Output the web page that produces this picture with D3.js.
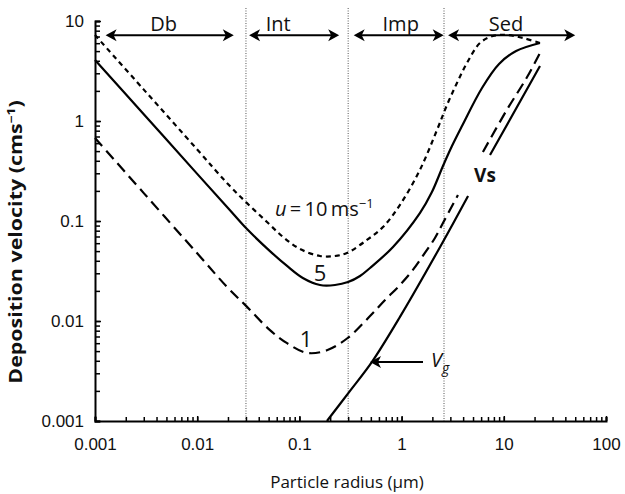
<!DOCTYPE html>
<html><head><meta charset="utf-8">
<script src="https://cdn.jsdelivr.net/npm/d3@7"></script>
<style>
body{margin:0;background:#fff;}
svg{display:block;font-family:"Open Sans",sans-serif;}
</style></head>
<body><svg id="c" width="625" height="494"></svg>
<script>
// ---- data ----
const xDomain = [0.001, 100];
const yDomain = [0.001, 10];
const xTickLabels = ["0.001", "0.01", "0.1", "1", "10", "100"];
const yTickLabels = ["0.001", "0.01", "0.1", "1", "10"];
const xMajor = [0.001, 0.01, 0.1, 1, 10, 100];
const yMajor = [0.001, 0.01, 0.1, 1, 10];

// regime boundaries (dotted verticals)
const boundaries = [0.03, 0.3, 2.6];
// regime labels and arrows
const regimeNames = ["Db", "Int", "Imp", "Sed"];
const regimeLabelX = [0.0047, 0.062, 0.98, 10.5];
const arrowFrom = [0.00127, 0.0322, 0.34, 2.85];
const arrowTo = [0.0228, 0.245, 2.58, 50];
const arrowLevel = 7.2;

// u = 10 m/s (short dashes)
const r10 = [0.001, 0.003, 0.01, 0.02, 0.0307, 0.0482, 0.0692, 0.1014, 0.159, 0.223, 0.292, 0.458, 0.657, 0.964, 1.51, 2.22, 2.78, 3.48, 4.36, 5.85, 7.84, 10.7, 15.4, 22.6];
const v10 = [7.24, 2.06, 0.519, 0.234, 0.151, 0.0977, 0.0692, 0.0525, 0.0447, 0.0447, 0.0479, 0.0646, 0.087, 0.145, 0.324, 0.813, 1.445, 2.4, 3.8, 6.03, 7.08, 7.24, 6.76, 6.03];

// u = 5 m/s (solid)
const r5 = [0.001, 0.003, 0.01, 0.02, 0.0307, 0.0515, 0.0757, 0.108, 0.159, 0.223, 0.299, 0.392, 0.491, 0.824, 1.51, 1.98, 2.54, 3.11, 3.9, 6.12, 8.98, 13.2, 22.6];
const v5 = [4.07, 1.17, 0.296, 0.135, 0.083, 0.05, 0.0355, 0.0269, 0.0229, 0.0229, 0.0245, 0.0282, 0.0339, 0.055, 0.12, 0.195, 0.355, 0.562, 0.891, 2.14, 3.72, 5.01, 6.03];

// u = 1 m/s (long dashes), null = gap around the Vs label
const r1 = [0.001, 0.003, 0.01, 0.02, 0.0294, 0.0515, 0.0757, 0.1186, 0.186, 0.299, 0.491, 0.689, 0.964, 1.29, 1.69, 2.12, 2.54, 3.56, null, 6.25, 10.7, 16.9, 22.6];
const v1 = [0.676, 0.19, 0.0475, 0.0214, 0.0145, 0.0081, 0.006, 0.0048, 0.0051, 0.0068, 0.0112, 0.0162, 0.0229, 0.0324, 0.0479, 0.0676, 0.0955, 0.182, null, 0.49, 1.29, 2.75, 4.79];

// gravitational settling Vg (solid), null = gap
const rg = [0.186, 0.313, 0.513, 0.964, 2.38, 4.47, null, 7.33, 22.6];
const vg = [0.001, 0.002, 0.0039, 0.011, 0.055, 0.178, null, 0.457, 3.55];

// ---- drawing ----
const svg = d3.select("#c");
const x = d3.scaleLog().domain(xDomain).range([95, 606]);
const y = d3.scaleLog().domain(yDomain).range([421, 21]);

function minor(major) {
  const out = [];
  major.forEach((m, i) => { if (i < major.length - 1) for (let k = 1; k <= 9; k++) out.push(m * k); });
  out.push(major[major.length - 1]);
  return out;
}

// dotted boundaries
svg.selectAll("line.bnd").data(boundaries).join("line")
  .attr("x1", d => x(d)).attr("x2", d => x(d))
  .attr("y1", 8).attr("y2", 421)
  .attr("stroke", "#555").attr("stroke-width", 1).attr("stroke-dasharray", "1,1.5");

// axes
const gx = svg.append("g").attr("transform", "translate(0,421)")
  .call(d3.axisBottom(x).tickValues(minor(xMajor)).tickSize(-4).tickFormat(""));
gx.select(".domain").attr("stroke-width", 2);
gx.selectAll(".tick line").attr("stroke-width", 1.5);
const gxl = svg.append("g").attr("transform", "translate(0,421)")
  .call(d3.axisBottom(x).tickValues(xMajor).tickSize(-5).tickPadding(17)
    .tickFormat((d, i) => xTickLabels[i]));
gxl.select(".domain").remove();
gxl.selectAll(".tick line").attr("stroke-width", 1.5);
gxl.selectAll("text").attr("font-size", 17).attr("fill", "#111");

const gy = svg.append("g").attr("transform", "translate(95,0)")
  .call(d3.axisLeft(y).tickValues(minor(yMajor)).tickSize(-5).tickFormat(""));
gy.select(".domain").attr("stroke-width", 2);
gy.selectAll(".tick line").attr("stroke-width", 1.5);
const gyl = svg.append("g").attr("transform", "translate(95,0)")
  .call(d3.axisLeft(y).tickValues(yMajor).tickSize(-6).tickPadding(11)
    .tickFormat((d, i) => yTickLabels[i]));
gyl.select(".domain").remove();
gyl.selectAll(".tick line").attr("stroke-width", 1.5);
gyl.selectAll("text").attr("font-size", 17).attr("fill", "#111");

// axis titles
svg.append("text").attr("x", 347).attr("y", 488).attr("text-anchor", "middle")
  .attr("font-size", 17).attr("fill", "#111").text("Particle radius (µm)");
const yt = svg.append("text").attr("transform", "translate(22,242) rotate(-90) scale(1.26,1)")
  .attr("text-anchor", "middle").attr("font-size", 17).attr("font-weight", "bold").attr("fill", "#111");
yt.append("tspan").text("Deposition velocity (cms");
yt.append("tspan").attr("dy", -7).attr("font-size", 11).text("−1");
yt.append("tspan").attr("dy", 7).text(")");

// curves
const line = d3.line().defined(d => d[0] != null)
  .x(d => x(d[0])).y(d => y(d[1])).curve(d3.curveCatmullRom.alpha(0.5));
const zip = (a, b) => a.map((v, i) => [v, b[i]]);
const series = [
  {data: zip(r10, v10), dash: "5,4"},
  {data: zip(r5, v5), dash: null},
  {data: zip(r1, v1), dash: "11,6"},
  {data: zip(rg, vg), dash: null}
];
svg.selectAll("path.curve").data(series).join("path")
  .attr("d", d => line(d.data)).attr("fill", "none")
  .attr("stroke", "#000").attr("stroke-width", 2.2)
  .attr("stroke-dasharray", d => d.dash);

// regime arrows
const ay = y(arrowLevel);
function head(px, dir) {
  return `M${px},${ay}L${px + dir * 11},${ay - 6}L${px + dir * 8},${ay}L${px + dir * 11},${ay + 6}Z`;
}
regimeNames.forEach((n, i) => {
  const a = x(arrowFrom[i]), b = x(arrowTo[i]);
  svg.append("line").attr("x1", a + 4).attr("x2", b - 4).attr("y1", ay).attr("y2", ay)
    .attr("stroke", "#000").attr("stroke-width", 2);
  svg.append("path").attr("d", head(a, 1)).attr("fill", "#000");
  svg.append("path").attr("d", head(b, -1)).attr("fill", "#000");
  svg.append("text").attr("x", x(regimeLabelX[i])).attr("y", 31).attr("text-anchor", "middle")
    .attr("font-size", 20).attr("fill", "#111").text(n);
});

// curve labels
const ul = svg.append("text").attr("x", 275).attr("y", 216).attr("font-size", 20).attr("fill", "#111");
ul.append("tspan").attr("font-style", "italic").text("u");
ul.append("tspan").text("\u2009=\u200910\u2009ms");
ul.append("tspan").attr("dy", -8).attr("font-size", 13).text("−1");
svg.append("text").attr("x", 320).attr("y", 281).attr("text-anchor", "middle")
  .attr("font-size", 22).attr("fill", "#111").text("5");
svg.append("text").attr("x", 306).attr("y", 347).attr("text-anchor", "middle")
  .attr("font-size", 22).attr("fill", "#111").text("1");
svg.append("text").attr("x", 485).attr("y", 182).attr("text-anchor", "middle")
  .attr("font-size", 19).attr("font-weight", "bold").attr("fill", "#111").text("Vs");
const vgl = svg.append("text").attr("x", 431).attr("y", 367).attr("font-size", 20).attr("fill", "#111");
vgl.append("tspan").attr("font-style", "italic").text("V");
vgl.append("tspan").attr("dy", 6).attr("font-size", 14).attr("font-style", "italic").text("g");
// Vg arrow
svg.append("line").attr("x1", 378).attr("x2", 423).attr("y1", 362).attr("y2", 362)
  .attr("stroke", "#000").attr("stroke-width", 2);
svg.append("path").attr("d", "M370,362L381,356L378,362L381,368Z").attr("fill", "#000");
</script></body></html>
